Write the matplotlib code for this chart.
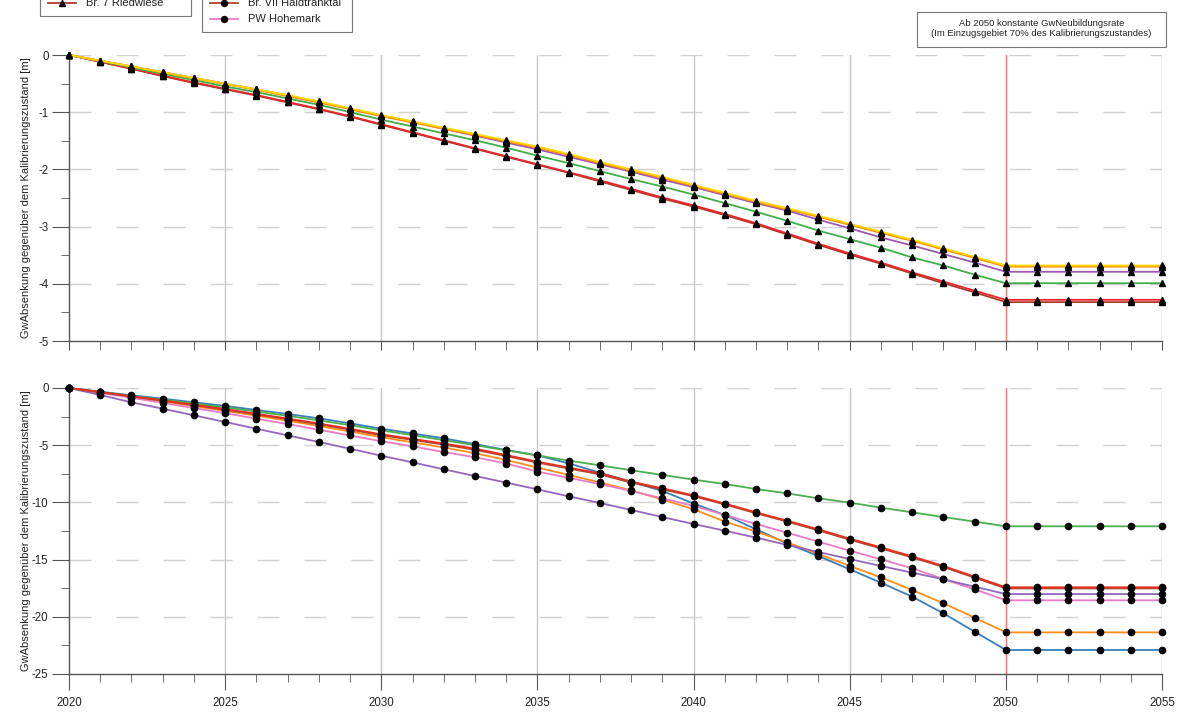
import numpy as np
import matplotlib
matplotlib.use("Agg")
import matplotlib.pyplot as plt
from matplotlib.lines import Line2D
from matplotlib.patches import Rectangle
from matplotlib.ticker import MultipleLocator

plt.rcParams['font.family'] = ['Liberation Sans', 'DejaVu Sans']
plt.rcParams['axes.unicode_minus'] = False

years = list(range(2020, 2056))

# upper panel (triangles)
top_yellow = [0, -0.10, -0.20, -0.30, -0.40, -0.50, -0.60, -0.70, -0.81, -0.93, -1.05, -1.16, -1.27, -1.38, -1.49, -1.60, -1.73, -1.87, -2.00, -2.13, -2.27, -2.41, -2.55, -2.68, -2.81, -2.95, -3.09, -3.23, -3.38, -3.53, -3.68, -3.68, -3.68, -3.68, -3.68, -3.68]
top_orange = [0, -0.10, -0.20, -0.31, -0.41, -0.51, -0.61, -0.72, -0.83, -0.95, -1.07, -1.18, -1.29, -1.40, -1.51, -1.62, -1.75, -1.89, -2.02, -2.15, -2.29, -2.43, -2.57, -2.70, -2.83, -2.97, -3.11, -3.25, -3.40, -3.55, -3.70, -3.70, -3.70, -3.70, -3.70, -3.70]
top_purple = [0, -0.10, -0.20, -0.30, -0.40, -0.50, -0.60, -0.71, -0.82, -0.94, -1.06, -1.17, -1.29, -1.41, -1.53, -1.65, -1.78, -1.91, -2.04, -2.18, -2.31, -2.45, -2.59, -2.72, -2.88, -3.03, -3.19, -3.33, -3.48, -3.63, -3.79, -3.79, -3.79, -3.79, -3.79, -3.79]
top_green = [0, -0.11, -0.22, -0.33, -0.44, -0.55, -0.65, -0.76, -0.87, -1.00, -1.13, -1.25, -1.37, -1.49, -1.62, -1.76, -1.89, -2.03, -2.17, -2.30, -2.44, -2.59, -2.74, -2.90, -3.07, -3.22, -3.37, -3.54, -3.68, -3.84, -3.99, -3.99, -3.99, -3.99, -3.99, -3.99]
top_red = [0, -0.12, -0.24, -0.36, -0.48, -0.59, -0.70, -0.82, -0.94, -1.07, -1.21, -1.35, -1.49, -1.63, -1.77, -1.91, -2.05, -2.19, -2.34, -2.49, -2.63, -2.78, -2.94, -3.12, -3.30, -3.47, -3.63, -3.80, -3.96, -4.12, -4.28, -4.28, -4.28, -4.28, -4.28, -4.28]
top_riedwiese = [0, -0.12, -0.24, -0.37, -0.49, -0.60, -0.71, -0.83, -0.95, -1.08, -1.22, -1.36, -1.50, -1.64, -1.78, -1.92, -2.06, -2.21, -2.36, -2.51, -2.65, -2.80, -2.96, -3.14, -3.32, -3.49, -3.65, -3.82, -3.99, -4.15, -4.32, -4.32, -4.32, -4.32, -4.32, -4.32]

# lower panel (dots)
bot_blue = [0, -0.32, -0.64, -0.93, -1.25, -1.57, -1.92, -2.27, -2.65, -3.09, -3.56, -3.97, -4.40, -4.90, -5.42, -5.89, -6.59, -7.40, -8.19, -9.00, -10.10, -11.10, -12.35, -13.60, -14.69, -15.85, -17.02, -18.24, -19.70, -21.30, -22.90, -22.90, -22.90, -22.90, -22.90, -22.90]
bot_orange = [0, -0.38, -0.78, -1.17, -1.58, -2.00, -2.42, -2.86, -3.32, -3.80, -4.30, -4.75, -5.20, -5.70, -6.30, -6.95, -7.60, -8.25, -8.95, -9.75, -10.60, -11.68, -12.55, -13.50, -14.51, -15.56, -16.55, -17.66, -18.82, -20.08, -21.36, -21.36, -21.36, -21.36, -21.36, -21.36]
bot_green = [0, -0.35, -0.70, -1.02, -1.36, -1.70, -2.06, -2.43, -2.83, -3.25, -3.70, -4.12, -4.56, -5.00, -5.45, -5.89, -6.35, -6.76, -7.19, -7.60, -8.01, -8.39, -8.83, -9.21, -9.65, -10.02, -10.46, -10.87, -11.28, -11.68, -12.09, -12.09, -12.09, -12.09, -12.09, -12.09]
bot_red = [0, -0.36, -0.72, -1.08, -1.46, -1.85, -2.25, -2.67, -3.10, -3.57, -4.05, -4.45, -4.85, -5.30, -5.86, -6.44, -6.96, -7.46, -8.19, -8.77, -9.38, -10.10, -10.87, -11.60, -12.36, -13.17, -13.93, -14.72, -15.56, -16.49, -17.42, -17.42, -17.42, -17.42, -17.42, -17.42]
bot_haldtranktal = [0, -0.37, -0.74, -1.11, -1.50, -1.90, -2.31, -2.73, -3.17, -3.64, -4.13, -4.54, -4.95, -5.40, -5.95, -6.52, -7.04, -7.55, -8.27, -8.86, -9.46, -10.18, -10.95, -11.68, -12.45, -13.26, -14.02, -14.81, -15.65, -16.58, -17.52, -17.52, -17.52, -17.52, -17.52, -17.52]
bot_hohemark = [0, -0.42, -0.86, -1.30, -1.75, -2.20, -2.68, -3.15, -3.65, -4.15, -4.65, -5.10, -5.60, -6.05, -6.60, -7.31, -7.85, -8.40, -9.00, -9.65, -10.30, -11.10, -11.89, -12.65, -13.43, -14.22, -14.98, -15.76, -16.70, -17.60, -18.56, -18.56, -18.56, -18.56, -18.56, -18.56]
bot_purple = [0, -0.61, -1.25, -1.81, -2.39, -2.97, -3.56, -4.14, -4.72, -5.31, -5.92, -6.50, -7.11, -7.69, -8.27, -8.86, -9.47, -10.05, -10.66, -11.28, -11.89, -12.47, -13.08, -13.72, -14.34, -14.95, -15.56, -16.14, -16.72, -17.37, -18.01, -18.01, -18.01, -18.01, -18.01, -18.01]

ylabel = "GwAbsenkung gegenüber dem Kalibrierungszustand [m]"
note = "Ab 2050 konstante GwNeubildungsrate\n(Im Einzugsgebiet 70% des Kalibrierungszustandes)"

W, H = 1182, 721
PT = 72 / 100  # pixels -> points
fig = plt.figure(figsize=(W / 100, H / 100), dpi=100)
ax1 = fig.add_axes([69 / W, 1 - 341 / H, (1162 - 69) / W, (341 - 55) / H])
ax2 = fig.add_axes([69 / W, 1 - 674 / H, (1162 - 69) / W, (674 - 388) / H])


def fx(px):
    return px / W


def fy(py):
    return 1 - py / H


def style(ax, ylim, ystep, long_xticks):
    ax.set_xlim(2020, 2055)
    ax.set_ylim(*ylim)
    for s in ["top", "right"]:
        ax.spines[s].set_visible(False)
    for s in ["left", "bottom"]:
        ax.spines[s].set_color("#555555")
        ax.spines[s].set_linewidth(1)
    ax.xaxis.set_major_locator(MultipleLocator(5))
    ax.xaxis.set_minor_locator(MultipleLocator(1))
    ax.yaxis.set_major_locator(MultipleLocator(ystep))
    ax.yaxis.set_minor_locator(MultipleLocator(ystep / 2))
    ax.tick_params(axis="y", which="major", length=17 * PT, color="#555555", labelsize=8.3, labelcolor="#222222", pad=2.5)
    ax.tick_params(axis="y", which="minor", length=8 * PT, color="#555555")
    if long_xticks:
        ax.tick_params(axis="x", which="major", length=16 * PT, color="#555555", labelsize=8.3, labelcolor="#222222", pad=5)
        ax.tick_params(axis="x", which="minor", length=8 * PT, color="#555555")
    else:
        ax.tick_params(axis="x", which="both", length=9 * PT, color="#555555", labelbottom=False)
    for yv in np.arange(ylim[0] + ystep, ylim[1] + ystep / 2, ystep):
        ax.axhline(yv, color="#d0d0d0", lw=1, dashes=(22 * PT, 25 * PT), zorder=0)
    for xv in range(2025, 2056, 5):
        ax.axvline(xv, color="#c8c8c8", lw=1, zorder=0)
    ax.axvline(2050, color="#f08080", lw=1, zorder=0.5)
    ax.set_ylabel(ylabel, fontsize=8, color="#222222")
    ax.yaxis.set_label_coords(-38 / 1093, 0.5)


style(ax1, (-5, 0), 1, False)
style(ax2, (-25, 0), 5, True)

top_series = [
    (top_riedwiese, "#b5372a"),
    (top_red, "#e8262a"),
    (top_green, "#3fae49"),
    (top_purple, "#9b59b6"),
    (top_orange, "#ff8c00"),
    (top_yellow, "#ffd700"),
]
for vals, col in top_series:
    ax1.plot(years, vals, color=col, lw=1.3, marker="^", ms=4.3, mfc="black", mec="black", clip_on=False, zorder=3)

bot_series = [
    (bot_blue, "#3a7fb8"),
    (bot_orange, "#ff8c1a"),
    (bot_green, "#4caf50"),
    (bot_hohemark, "#e87cc4"),
    (bot_purple, "#9467bd"),
    (bot_haldtranktal, "#b5462b"),
    (bot_red, "#e53020"),
]
for vals, col in bot_series:
    ax2.plot(years, vals, color=col, lw=1.3, marker="o", ms=4.5, mfc="black", mec="black", clip_on=False, zorder=3)


# legend boxes, cut off at the top of the page
def legend_box(x0, x1, ybot, entries):
    fig.patches.append(Rectangle((fx(x0), fy(ybot)), fx(x1 - x0), 60 / H, transform=fig.transFigure,
                                 fc="white", ec="#777777", lw=0.8))
    for ypix, col, mk, label in entries:
        fig.add_artist(Line2D([fx(x0 + 8), fx(x0 + 36)], [fy(ypix), fy(ypix)], transform=fig.transFigure,
                              color=col, lw=1.3))
        fig.add_artist(Line2D([fx(x0 + 22)], [fy(ypix)], transform=fig.transFigure, marker=mk, ms=4.3,
                              mfc="black", mec="black", lw=0))
        fig.text(fx(x0 + 46), fy(ypix), label, fontsize=8, color="#222222", va="center", ha="left")


legend_box(40, 191, 16, [(3, "#b5372a", "^", "Br. 7 Riedwiese")])
legend_box(202, 352, 32, [(3, "#b5462b", "o", "Br. VII Haldtranktal"),
                          (19, "#e87cc4", "o", "PW Hohemark")])

fig.patches.append(Rectangle((fx(917), fy(47)), fx(1166 - 917), 35 / H, transform=fig.transFigure,
                             fc="white", ec="#777777", lw=0.8))
fig.text(fx(1041.5), fy(28.5), note, ha="center", va="center", fontsize=6.8, color="#222222", linespacing=1.15)

fig.savefig("out.png", dpi=100)
